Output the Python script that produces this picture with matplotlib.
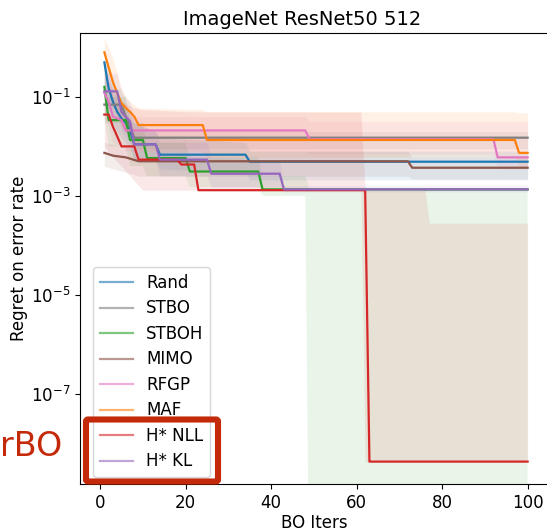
import matplotlib
matplotlib.use("Agg")
import matplotlib.pyplot as plt
from matplotlib.patches import FancyBboxPatch

# best-so-far regret per method: iterations where the value changes, and the value there
rand_x = [1, 2, 3, 4, 5, 6, 7, 8, 13, 14, 34, 35, 100]
rand_y = [0.5, 0.15, 0.08, 0.05, 0.037, 0.03, 0.021, 0.011, 0.011, 6.8e-3, 6.8e-3, 4.9e-3, 4.9e-3]
rand_lo = [0.15, 0.05, 0.03, 0.02, 0.015, 0.012, 0.009, 0.005, 0.005, 3.5e-3, 3e-3, 2.1e-3, 2.1e-3]
rand_hi = [1.0, 0.4, 0.2, 0.12, 0.08, 0.06, 0.05, 0.03, 0.02, 0.015, 0.012, 8e-3, 8e-3]

stbo_x = [1, 5, 6, 7, 8, 100]
stbo_y = [0.07, 0.07, 0.04, 0.025, 0.015, 0.015]
stbo_lo = [0.03, 0.03, 0.02, 0.012, 0.009, 0.009]
stbo_hi = [0.15, 0.15, 0.08, 0.04, 0.02, 0.02]

stboh_x = [1, 2, 6, 7, 10, 11, 20, 21, 37, 38, 100]
stboh_y = [0.16, 0.034, 0.034, 0.0135, 0.0135, 5.8e-3, 5.8e-3, 3.1e-3, 3.1e-3, 1.35e-3, 1.35e-3]
stboh_band_x = [1, 2, 6, 7, 10, 11, 20, 21, 37, 38, 48, 49, 100]
stboh_lo = [0.04, 0.01, 0.01, 4e-3, 4e-3, 2.5e-3, 2.5e-3, 1.5e-3, 1.5e-3, 1e-3, 1e-3, 1e-12, 1e-12]
stboh_hi = [0.5, 0.1, 0.1, 0.03, 0.03, 0.012, 0.012, 6e-3, 6e-3, 2.5e-3, 2.5e-3, 1.4e-3, 1.4e-3]

mimo_x = [1, 3, 6, 9, 72, 73, 100]
mimo_y = [7.4e-3, 6.5e-3, 6e-3, 5e-3, 5e-3, 3.7e-3, 3.7e-3]
mimo_lo = [4e-3, 3.5e-3, 3e-3, 2.5e-3, 2.5e-3, 2.2e-3, 2.2e-3]
mimo_hi = [0.012, 0.011, 0.01, 8e-3, 8e-3, 6e-3, 6e-3]

rfgp_x = [1, 2, 3, 5, 6, 48, 49, 92, 93, 100]
rfgp_y = [0.12, 0.08, 0.04, 0.034, 0.021, 0.021, 0.014, 0.014, 6e-3, 6e-3]
rfgp_lo = [0.04, 0.025, 0.012, 0.01, 8e-3, 8e-3, 7e-3, 7e-3, 3.5e-3, 3.5e-3]
rfgp_hi = [0.5, 0.3, 0.1, 0.06, 0.04, 0.04, 0.032, 0.032, 0.032, 0.032]

maf_x = [1, 2, 3, 4, 5, 6, 7, 8, 9, 24, 25, 97, 98, 100]
maf_y = [0.8, 0.4, 0.2, 0.12, 0.075, 0.06, 0.05, 0.04, 0.027, 0.027, 0.0135, 0.0135, 7.4e-3, 7.4e-3]
maf_lo = [0.3, 0.15, 0.08, 0.04, 0.025, 0.02, 0.015, 0.012, 0.008, 0.008, 6e-3, 6e-3, 4e-3, 4e-3]
maf_hi = [1.5, 1.0, 0.6, 0.3, 0.15, 0.1, 0.08, 0.07, 0.06, 0.055, 0.05, 0.05, 0.048, 0.048]

nll_x = [1, 2, 3, 4, 5, 8, 9, 18, 19, 22, 23, 62, 63, 100]
nll_y = [0.044, 0.044, 0.025, 0.016, 0.01, 0.01, 5.4e-3, 5.4e-3, 4.3e-3, 4.3e-3, 1.3e-3, 1.3e-3, 4.2e-9, 4.2e-9]
nll_band_x = [1, 3, 5, 8, 10, 22, 23, 61, 62, 76, 77, 100]
nll_lo = [0.01, 6e-3, 4e-3, 2e-3, 1.3e-3, 1.3e-3, 1.3e-3, 1.3e-3, 4.2e-9, 4.2e-9, 4.2e-9, 4.2e-9]
nll_hi = [0.3, 0.15, 0.08, 0.06, 0.055, 0.05, 0.05, 0.05, 1.3e-3, 1.3e-3, 2.8e-4, 2.8e-4]

kl_x = [1, 4, 5, 7, 8, 13, 14, 25, 26, 42, 43, 100]
kl_y = [0.13, 0.13, 0.05, 0.032, 0.011, 0.011, 5.4e-3, 5.4e-3, 2.8e-3, 2.8e-3, 1.35e-3, 1.35e-3]
kl_lo = [0.06, 0.06, 0.02, 0.012, 5e-3, 5e-3, 2.5e-3, 2.5e-3, 1.5e-3, 1.5e-3, 1.2e-3, 1.2e-3]
kl_hi = [0.3, 0.3, 0.12, 0.08, 0.03, 0.02, 0.012, 0.012, 6e-3, 5e-3, 1.6e-3, 1.6e-3]

methods = [
    ("Rand", "#1f77b4", rand_x, rand_y, rand_x, rand_lo, rand_hi),
    ("STBO", "#7f7f7f", stbo_x, stbo_y, stbo_x, stbo_lo, stbo_hi),
    ("STBOH", "#2ca02c", stboh_x, stboh_y, stboh_band_x, stboh_lo, stboh_hi),
    ("MIMO", "#8c564b", mimo_x, mimo_y, mimo_x, mimo_lo, mimo_hi),
    ("RFGP", "#e377c2", rfgp_x, rfgp_y, rfgp_x, rfgp_lo, rfgp_hi),
    ("MAF", "#ff7f0e", maf_x, maf_y, maf_x, maf_lo, maf_hi),
    ("H* NLL", "#d62728", nll_x, nll_y, nll_band_x, nll_lo, nll_hi),
    ("H* KL", "#9467bd", kl_x, kl_y, kl_x, kl_lo, kl_hi),
]

plt.rcParams['font.size'] = 12

fig = plt.figure(figsize=(5.47, 5.32), dpi=100)
ax = fig.add_axes([80/547, 1 - 484/532, 469/547, 451/532])

for name, col, x, y, bx, lo, hi in methods:
    ax.fill_between(bx, lo, hi, color=col, alpha=0.1, linewidth=0)
for name, col, x, y, bx, lo, hi in methods:
    ax.plot(x, y, color=col, lw=1.6, label=name)

ax.set_yscale('log')
ax.set_xlim(-4.7, 105)
ax.set_ylim(10**-8.83, 10**0.294)
ax.set_yticks([1e-1, 1e-3, 1e-5, 1e-7])
ax.minorticks_off()
ax.set_xticks([0, 20, 40, 60, 80, 100])

ax.set_xlabel('BO Iters', labelpad=2)
ax.set_ylabel('Regret on error rate', labelpad=2)
ax.set_title('ImageNet ResNet50 512', fontsize=14, x=0.473)

leg = ax.legend(loc='lower left', bbox_to_anchor=(13/469, 7/451), borderaxespad=0,
                labelspacing=0.45)
for h in leg.get_lines():
    h.set_alpha(0.6)

# red highlight around the HyperBO entries
box = FancyBboxPatch((86/547, 1 - 481.5/532), 132/547, 62/532,
                     boxstyle='round,pad=0,rounding_size=0.004',
                     transform=fig.transFigure, fill=False,
                     edgecolor='#c42a0a', linewidth=4.4, zorder=10)
fig.add_artist(box)
fig.text(0, 1 - 446/532, 'rBO', color='#c42a0a', fontsize=24,
         ha='left', va='center')

fig.savefig('out.png', dpi=100)
